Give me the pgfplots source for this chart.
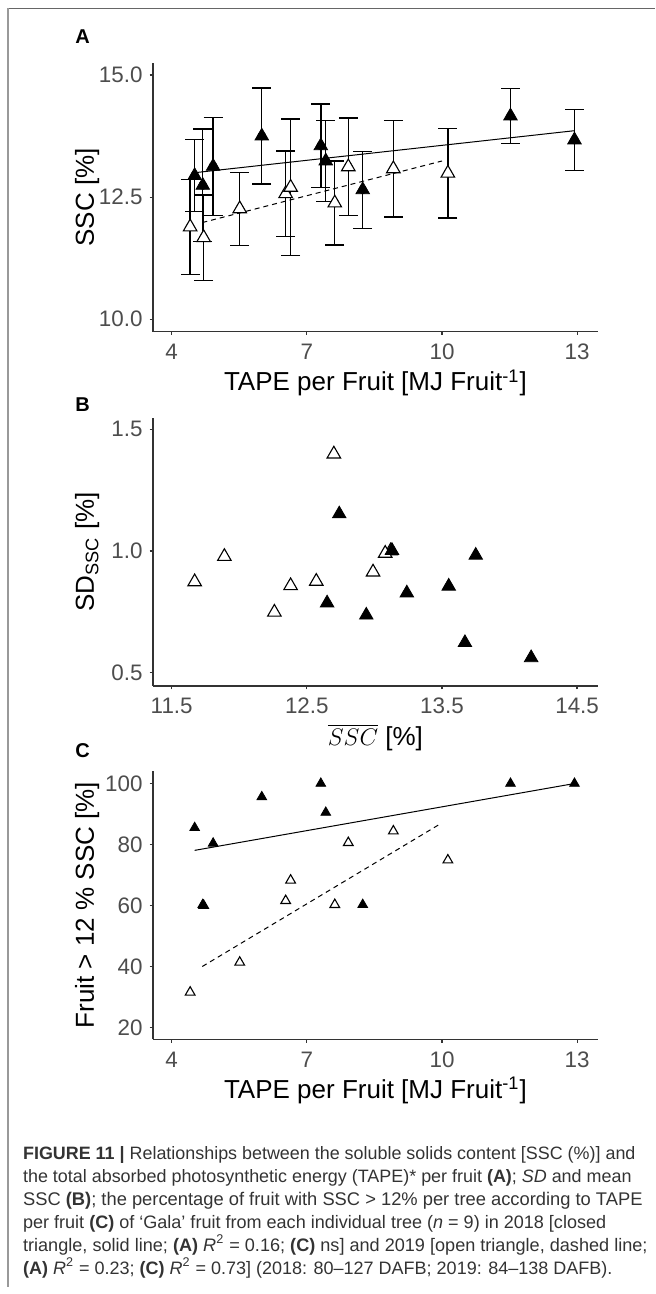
\documentclass[border=0pt]{standalone}
\usepackage{pgfplots}
\usepackage{pgfplotstable}
\pgfplotsset{compat=1.18}
\usepackage{fontspec}
\setmainfont{Liberation Sans}
\definecolor{axgray}{HTML}{333333}
\definecolor{tkgray}{HTML}{4D4D4D}
\definecolor{capgray}{HTML}{333333}
% 2018: TAPE, mean SSC, SD, fruit>12%
\pgfplotstableread{
t m s p
4.51 12.94 0.736 85.5
4.69 12.74 1.152 60.3
4.92 13.13 1.002 80.4
6.00 13.75 0.982 95.6
7.31 13.55 0.855 100
7.42 13.24 0.827 90.5
8.24 12.65 0.786 60.3
11.52 14.16 0.561 100
12.94 13.67 0.623 100
}\dataA
% 2019
\pgfplotstableread{
t m s p
4.41 11.89 0.977 31.6
4.71 11.67 0.873 60.0
5.51 12.26 0.748 41.4
6.53 12.57 0.875 61.6
6.64 12.70 1.398 68.3
7.62 12.38 0.857 60.3
7.92 13.12 1.000 80.6
8.92 13.08 0.990 84.4
10.13 12.99 0.913 74.9
}\dataB
\newcommand{\capline}[3]{\node at (11.35,#1) {\resizebox{#2pt}{!}{\fontsize{9.4}{11}\selectfont\strut #3}};}
\newcommand{\titlefont}{\fontsize{13}{15}\selectfont}
\begin{document}
\begin{tikzpicture}[x=1pt,y=1pt]
\useasboundingbox (0,0) rectangle (327.5,647);
\pgfplotsset{
  panel/.style={
    scale only axis, width=222.5pt, height=134.2pt, anchor=south west,
    axis x line*=bottom, axis y line*=left,
    axis line style={-, draw=axgray, line width=0.6pt},
    tick style={draw=axgray, line width=0.6pt},
    tick align=outside, major tick length=1.65pt,
    minor tick num=0,
    tick label style={font=\fontsize{11.2}{13}\selectfont, text=tkgray},
    /pgf/number format/assume math mode=true,
    xticklabel style={yshift=-1pt},
    every axis x label/.style={at={(axis description cs:0.5,-0.22)}, anchor=base, font=\titlefont},
    every axis y label/.style={at={(axis description cs:-0.1324,0.5)}, anchor=base, rotate=90, font=\titlefont},
  },
  ebar/.style={only marks, mark=none, forget plot,
    error bars/.cd, y dir=both, y explicit,
    error bar style={black, line width=0.7pt, solid},
    error mark options={rotate=90, mark size=4.7pt, black, line width=0.7pt, solid}},
  closedtri/.style={only marks, mark=triangle*, mark size=#1, mark options={fill=black, draw=black, line width=0.4pt, solid}},
  opentri/.style={only marks, mark=triangle*, mark size=#1, mark options={fill=white, draw=black, line width=0.55pt, solid}},
}
% frame
\draw[color=black!60, line width=0.75pt] (4,642.85) -- (327.5,642.85);
\draw[color=black!40, line width=0.75pt] (4,642.85) -- (4,3.5);

% panel labels
\node[anchor=base west, font=\bfseries\fontsize{10}{12}\selectfont, inner sep=0pt] at (37.5,625) {A};
\node[anchor=base west, font=\bfseries\fontsize{10}{12}\selectfont, inner sep=0pt] at (37.5,441) {B};
\node[anchor=base west, font=\bfseries\fontsize{10}{12}\selectfont, inner sep=0pt] at (37.5,268) {C};

% ---------------- Panel A
\begin{axis}[panel, at={(76.45pt,481.15pt)},
  xmin=3.583, xmax=13.46, ymin=9.746, ymax=15.24,
  xtick={4,7,10,13}, ytick={10,12.5,15},
  yticklabel style={/pgf/number format/.cd, fixed, fixed zerofill, precision=1},
  xlabel={TAPE per Fruit [MJ Fruit\textsuperscript{-1}]},
  ylabel={SSC [\%]}]
\addplot[ebar] table[x=t, y=m, y error=s] {\dataB};
\addplot[ebar] table[x=t, y=m, y error=s] {\dataA};
\addplot[black, line width=0.5pt] coordinates {(4.51,13.0) (12.94,13.86)};
\addplot[black, line width=0.5pt, dash pattern=on 2.5pt off 2pt] coordinates {(4.68,11.98) (10.0,13.24)};
\addplot[opentri=3.9pt] table[x=t, y=m] {\dataB};
\addplot[closedtri=3.9pt] table[x=t, y=m] {\dataA};
\end{axis}

% ---------------- Panel B
\begin{axis}[panel, at={(76.45pt,304pt)},
  xmin=11.361, xmax=14.654, ymin=0.445, ymax=1.548,
  xtick={11.5,12.5,13.5,14.5}, ytick={0.5,1.0,1.5},
  xticklabel style={/pgf/number format/.cd, fixed, fixed zerofill, precision=1},
  yticklabel style={/pgf/number format/.cd, fixed, fixed zerofill, precision=1},
  xlabel={$\overline{SSC}$ [\%]},
  ylabel={SD\textsubscript{SSC} [\%]}]
\addplot[opentri=3.9pt] table[x=m, y=s] {\dataB};
\addplot[closedtri=3.9pt] table[x=m, y=s] {\dataA};
\end{axis}

% ---------------- Panel C
\begin{axis}[panel, at={(76.45pt,127.35pt)},
  xmin=3.583, xmax=13.46, ymin=16.19, ymax=104.14,
  xtick={4,7,10,13}, ytick={20,40,60,80,100},
  xlabel={TAPE per Fruit [MJ Fruit\textsuperscript{-1}]},
  ylabel={Fruit > 12 \% SSC [\%]}]
\addplot[black, line width=0.5pt] coordinates {(4.51,78.1) (12.94,100)};
\addplot[black, line width=0.5pt, dash pattern=on 2.5pt off 2pt] coordinates {(4.68,40.05) (9.97,86.85)};
\addplot[opentri=2.8pt] table[x=t, y=p] {\dataB};
\addplot[closedtri=2.8pt] table[x=t, y=p] {\dataA};
\end{axis}

% ---------------- Caption
\begin{scope}[every node/.style={anchor=base west, inner sep=0pt, text=capgray}]
\capline{67}{306.2}{\textbf{FIGURE 11 |} Relationships between the soluble solids content [SSC (\%)] and}
\capline{55.6}{304.2}{the total absorbed photosynthetic energy (TAPE)* per fruit \textbf{(A)}; \textit{SD} and mean}
\capline{44.2}{309.7}{SSC \textbf{(B)}; the percentage of fruit with SSC > 12\% per tree according to TAPE}
\capline{32.8}{291.5}{per fruit \textbf{(C)} of ‘Gala’ fruit from each individual tree (\textit{n} = 9) in 2018 [closed}
\capline{21.4}{312.2}{triangle, solid line; \textbf{(A)} \textit{R}\textsuperscript{2} = 0.16; \textbf{(C)} ns] and 2019 [open triangle, dashed line;}
\capline{10}{294.7}{\textbf{(A)} \textit{R}\textsuperscript{2} = 0.23; \textbf{(C)} \textit{R}\textsuperscript{2} = 0.73] (2018: 80--127 DAFB; 2019: 84--138 DAFB).}
\end{scope}
\end{tikzpicture}
\end{document}
